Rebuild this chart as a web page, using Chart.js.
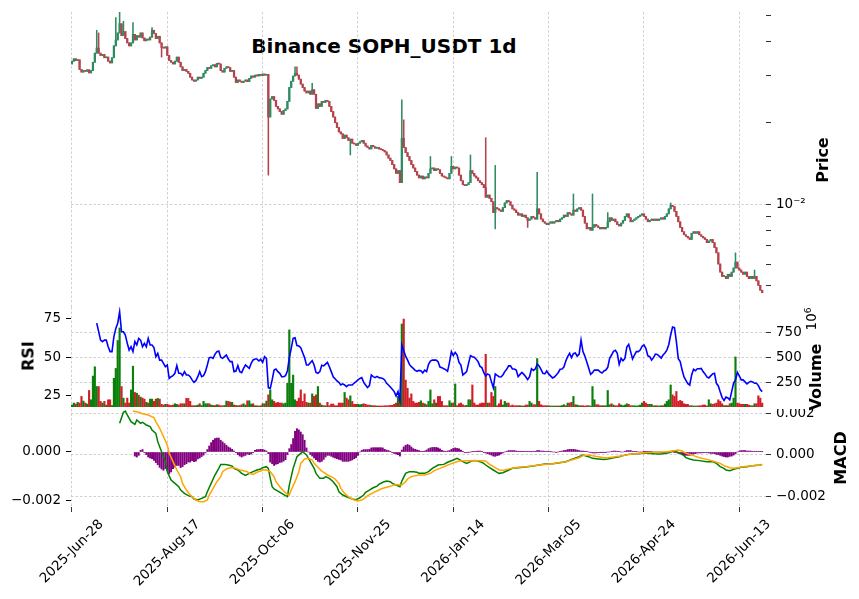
<!DOCTYPE html>
<html>
<head>
<meta charset="utf-8">
<script src="https://cdn.jsdelivr.net/npm/chart.js@4.4.0/dist/chart.umd.min.js"></script>
<style>
  body { margin: 0; background: #fff; width: 859px; height: 599px; overflow: hidden; position: relative; font-family: "DejaVu Sans", sans-serif; }
  canvas { position: absolute; left: 0; }
  .ttl { position: absolute; left: 384px; top: 46px; transform: translate(-50%, -50%); font-weight: bold; font-size: 20px; white-space: nowrap; }
  .ylab { position: absolute; transform: translate(-50%, -50%) rotate(-90deg); font-weight: bold; font-size: 16px; white-space: nowrap; }
  .offs { position: absolute; transform: translate(-50%, -50%) rotate(-90deg); font-size: 13.5px; white-space: nowrap; }
</style>
</head>
<body>
<div class="ttl">Binance SOPH_USDT 1d</div>
<canvas id="priceChart" width="859" height="308" style="top:0"></canvas>
<canvas id="rsiChart" width="859" height="100" style="top:307px"></canvas>
<canvas id="macdChart" width="859" height="190" style="top:409px"></canvas>
<div class="ylab" style="left:822px;top:160px">Price</div>
<div class="ylab" style="left:815px;top:377px">Volume</div>
<div class="offs" style="left:811px;top:319px">10<sup style="font-size:9px">6</sup></div>
<div class="ylab" style="left:28px;top:356px">RSI</div>
<div class="ylab" style="left:840px;top:458px">MACD</div>
<script>
// daily candles starting 2025-06-28 (index 0)
const tickDays = [0, 50, 100, 150, 200, 250, 300, 350];
const tickLabels = ['2025-Jun-28', '2025-Aug-17', '2025-Oct-06', '2025-Nov-25', '2026-Jan-14', '2026-Mar-05', '2026-Apr-24', '2026-Jun-13'];

const firstOpen = 0.0330;
const closes = [
  0.0338,0.0345,0.0340,0.0342,0.0315,0.0308,0.0312,0.0310,0.0314,0.0306,
  0.0312,0.0335,0.0362,0.0378,0.0362,0.0355,0.0358,0.0348,0.0350,0.0338,
  0.0333,0.0348,0.0385,0.0405,0.0430,0.0465,0.0420,0.0435,0.0410,0.0395,
  0.0385,0.0395,0.0425,0.0405,0.0420,0.0415,0.0430,0.0412,0.0402,0.0408,
  0.0405,0.0415,0.0440,0.0428,0.0410,0.0418,0.0395,0.0380,0.0378,0.0382,
  0.0355,0.0340,0.0335,0.0330,0.0338,0.0350,0.0335,0.0322,0.0312,0.0315,
  0.0310,0.0305,0.0295,0.0288,0.0285,0.0288,0.0295,0.0292,0.0295,0.0305,
  0.0312,0.0320,0.0318,0.0325,0.0328,0.0322,0.0332,0.0330,0.0312,0.0308,
  0.0318,0.0322,0.0320,0.0310,0.0312,0.0295,0.0282,0.0288,0.0285,0.0282,
  0.0285,0.0288,0.0284,0.0292,0.0298,0.0295,0.0300,0.0298,0.0302,0.0299,
  0.0303,0.0300,0.0302,0.0210,0.0245,0.0250,0.0242,0.0230,0.0225,0.0220,
  0.0215,0.0222,0.0225,0.0240,0.0270,0.0285,0.0298,0.0305,0.0300,0.0290,
  0.0278,0.0270,0.0262,0.0258,0.0262,0.0255,0.0265,0.0255,0.0226,0.0235,
  0.0230,0.0240,0.0238,0.0242,0.0240,0.0230,0.0220,0.0210,0.0200,0.0192,
  0.0185,0.0182,0.0175,0.0180,0.0176,0.0172,0.0174,0.0168,0.0167,0.0165,
  0.0168,0.0170,0.0172,0.0168,0.0164,0.0162,0.0160,0.0165,0.0163,0.0161,
  0.0162,0.0160,0.0159,0.0158,0.0156,0.0152,0.0148,0.0145,0.0140,0.0135,
  0.0130,0.0133,0.0120,0.0175,0.0162,0.0155,0.0150,0.0145,0.0140,0.0136,
  0.0132,0.0128,0.0125,0.0127,0.0124,0.0126,0.0125,0.0130,0.0135,0.0136,
  0.0133,0.0135,0.0134,0.0130,0.0127,0.0126,0.0125,0.0124,0.0130,0.0138,
  0.0135,0.0137,0.0136,0.0128,0.0122,0.0118,0.0117,0.0118,0.0120,0.0133,
  0.0130,0.0127,0.0125,0.0122,0.0120,0.0118,0.0115,0.0106,0.0108,0.0105,
  0.0102,0.0093,0.0097,0.0096,0.0095,0.0094,0.0097,0.0101,0.0103,0.0102,
  0.0099,0.0096,0.0095,0.0093,0.0091,0.0092,0.0090,0.0091,0.0089,0.0087,
  0.0088,0.0090,0.0089,0.0088,0.0096,0.0092,0.0088,0.0086,0.0085,0.0084,
  0.0085,0.0086,0.0085,0.0086,0.0087,0.0086,0.0088,0.0089,0.0091,0.0090,
  0.0093,0.0092,0.0091,0.0095,0.0094,0.0096,0.0097,0.0095,0.0090,0.0085,
  0.0081,0.0082,0.0080,0.0082,0.0084,0.0083,0.0082,0.0081,0.0082,0.0081,
  0.0082,0.0086,0.0089,0.0087,0.0088,0.0086,0.0084,0.0083,0.0085,0.0087,
  0.0090,0.0092,0.0089,0.0086,0.0087,0.0088,0.0089,0.0090,0.0091,0.0092,
  0.0090,0.0088,0.0086,0.0087,0.0088,0.0087,0.0088,0.0087,0.0088,0.0089,
  0.0088,0.0090,0.0092,0.0096,0.0099,0.0098,0.0094,0.0090,0.0086,0.0082,
  0.0079,0.0077,0.0076,0.0075,0.0074,0.0078,0.0079,0.0078,0.0079,0.0077,
  0.0076,0.0075,0.0074,0.0072,0.0073,0.0074,0.0072,0.0069,0.0066,0.0060,
  0.0056,0.0054,0.0054,0.0053,0.0055,0.0054,0.0056,0.0058,0.0061,0.0058,
  0.0057,0.0056,0.0055,0.0056,0.0054,0.0053,0.0054,0.0053,0.0054,0.0052,
  0.0050,0.0048,0.0047
];

// long wicks visible in the picture
const spikeDays  = [13, 14, 23, 25, 27, 32, 42, 117, 118, 126, 173, 174, 188, 199, 209, 217, 222, 244, 263, 273, 281, 314, 348, 358];
const spikeHighs = [0.0440, 0.0430, 0.0490, 0.0520, 0.0475, 0.0470, 0.0450, 0.0322, 0.0322, 0.0280, 0.0243, 0.0205, 0.0150, 0.0150, 0.0152, 0.0176, 0.0139, 0.0131, 0.0109, 0.0109, 0.0093, 0.0101, 0.0066, 0.0057];
const dipDays = [47, 103, 146, 222, 239];
const dipLows = [0.0350, 0.0128, 0.0152, 0.0081, 0.0082];

// volume in millions
const volumeM = [
  20,40,30,47,40,107,60,40,30,167, 73,313,407,207,207,57,40,57,20,73,
  73,15,290,390,673,800,207,90,40,90, 40,173,413,147,140,120,100,90,80,47,
  40,80,80,57,80,87,80,27,20,27, 27,20,15,20,33,27,20,33,33,33,
  87,87,57,13,13,13,20,33,15,57, 33,33,33,20,15,15,23,20,13,13,
  15,60,57,50,47,20,15,13,15,23, 33,20,63,63,30,33,13,13,10,13,
  33,33,60,123,173,73,57,40,47,40, 40,33,40,240,780,240,323,73,57,90,
  173,57,133,47,40,40,133,107,123,207, 40,20,13,13,47,13,30,30,13,13,
  40,40,40,147,90,73,113,57,27,27, 27,23,27,33,27,20,20,15,13,13,
  10,10,10,10,13,13,13,17,17,27, 40,107,120,840,890,273,190,90,133,57,
  40,40,47,63,40,33,23,57,173,33, 73,40,107,107,57,13,13,13,63,40,
  40,233,13,33,40,23,13,17,73,73, 223,40,20,20,33,40,40,533,40,40,
  147,107,207,13,33,73,20,57,40,40, 13,20,13,13,13,13,10,10,20,20,
  57,40,23,23,490,57,23,13,13,13, 13,10,10,10,10,10,10,15,23,13,
  40,40,47,107,23,20,13,13,13,10, 13,13,10,207,73,23,23,13,13,13,
  13,167,23,33,20,13,13,33,20,13, 20,33,27,13,13,13,10,13,20,40,
  57,40,27,27,27,13,13,13,10,13, 13,30,57,73,223,123,107,157,57,67,
  57,33,27,27,13,13,10,10,10,13, 13,20,20,10,73,33,27,33,40,73,
  57,33,13,15,13,33,40,90,507,40, 33,27,27,27,27,20,13,13,33,33,
  113,90,40
];

// RSI (14) from day 13
const rsiStart = 13;
const rsi = [
  72,66.5,61,60,61,61,56.7,53.5,53.5,63.2, 68.6,71.9,79.4,66.4,66.4,64.3,58.9,54.5,56.7,53.5,
  60,57.8,62.1,61,56.7,58.9,56.7,62.1,57.8,57.8, 56.1,50.2,52.4,48,48,45.9,43.7,44.8,36.1,37.2,
  37.9,39.4,44.4,39.4,39.4,37.9,40.5,38.3,38.3,37.2, 35.1,33.5,34.6,37.2,40.5,37.2,37.9,40.5,44.8,49.6,
  49.8,49.1,51.7,53.5,53.9,49.8,49.1,50.2,51.3,48.7, 47,47,40.5,40.9,44.4,40.5,39.8,42.6,44.8,43.7,
  42.6,45.9,48.1,48.7,48.7,47.4,48.5,46.5,50.2,49.1, 30,29.6,35.1,41.5,42.2,40.5,39.4,37.2,37.2,37.9,
  40.9,49.6,55.6,62.1,62.5,57.4,57.1,56.1,52.8,49.6, 44.8,44.8,46.3,47.6,44.8,40,39.4,40.5,44.6,44.2,
  45.4,46.5,43.7,40.5,37.2,35.9,34.4,33.5,31.8,32.5, 31.8,30.7,31.8,31.8,31.8,33.1,34,35.1,36.1,36.6,
  33.5,31.8,30.1,31.4,38.3,37.2,36.6,37.4,36.6,36.4, 36.1,35.1,32.9,31.8,30.5,29,27.5,24.7,27.5,22.1,
  57.8,54,50.6,48.1,45.2,43.7,42.6,41.3,40.7,41.3, 41.1,39.6,41.5,40.5,45.2,47.4,48,48,48,47,
  43.5,43.1,42.4,41.8,40.7,46.5,53.5,50.9,53,51.3, 46.5,44.8,38.3,39.4,40.5,45.9,50.9,50.2,49.8,48.5,
  47,43.9,43.1,39.8,37.7,39,38.3,34,30,39, 38,37.2,37,38.3,40.5,42,44.2,44.2,42.2,42.2,
  41.5,37.2,38.7,40,38.7,37.2,35.3,37.2,42.4,41.3, 42.2,45.4,44.2,42,39.4,39,40.9,39,37.7,36.4,
  37,38.3,39.8,42,42.2,43.5,47.4,50.2,52.4,49.6, 52.2,52.6,50.6,51.9,61,53.5,50.6,46.8,42.8,38.7,
  39.8,41.5,41.5,41.5,40.3,39.6,40.9,41.5,43.3,49.1, 51.3,53.7,54.3,52.4,45.2,49.1,47.6,49.1,56.5,58.2,
  53.5,48.7,51.3,53.5,53.5,54.5,56.9,57.8,55.6,50.9, 50.2,48,49.6,51.9,51.7,50.6,49.3,51.3,52.6,54.5,
  58,64.3,69.5,69.1,60,48.9,47,41.5,37,34.8, 32.7,31.8,38.3,42,41.1,42.4,42.4,42.6,40.5,39,
  37,36.4,37.7,39,39.4,32.9,31.2,27.2,23.6,21.8, 24,23.4,22.1,27.5,33.1,35.1,40,37.7,35.1,35.1,
  33.8,32.5,33.5,34.2,33.8,32.9,32.9,31.4,28.8,27.5
];

// MACD histogram from day 33
const histStart = 33;
const macdHist = [
  -0.00017,-0.00021,-0.00014,0.00007,0.0001,-0.00003,-0.00011,-0.00021,-0.00025,-0.00028,
  -0.00035,-0.00044,-0.00053,-0.00064,-0.00071,-0.00076,-0.00069,-0.00076,-0.0009,-0.00083,
  -0.00069,-0.00063,-0.00056,-0.00056,-0.00065,-0.00061,-0.00053,-0.00049,-0.00042,-0.00042,
  -0.00036,-0.0004,-0.00038,-0.00029,-0.00025,-0.00019,-0.00013,-0.00004,0.0001,0.00025,
  0.00039,0.00049,0.00056,0.00058,0.00058,0.00049,0.00042,0.00035,0.00028,0.00021,
  0.00017,0.00011,0.00004,-0.00003,-0.00011,-0.00017,-0.00021,-0.00017,-0.00014,-0.00008,
  -0.00011,-0.00008,-0.00003,0.00007,0.0001,0.0001,0.00011,0.00011,0.00008,0.00004,
  -0.00007,-0.00042,-0.00049,-0.00056,-0.00051,-0.00049,-0.00044,-0.00042,-0.00038,-0.00032,
  -0.00011,0.00014,0.00031,0.00056,0.00086,0.00097,0.00092,0.00083,0.00072,0.00049,
  0.00017,0,-0.0001,-0.00017,-0.00025,-0.00032,-0.00039,-0.00042,-0.00039,-0.00031,
  -0.00021,-0.00014,-0.00014,-0.00018,-0.00022,-0.00025,-0.00028,-0.00031,-0.00033,-0.00039,
  -0.00039,-0.00039,-0.00039,-0.00036,-0.00033,-0.00028,-0.00024,-0.00014,0,0.00007,
  0.0001,0.0001,0.0001,0.00011,0.00017,0.00018,0.00018,0.00018,0.00018,0.00018,
  0.00017,0.00011,0.00008,0.00006,0.00001,-0.00003,-0.00006,-0.00008,-0.00011,-0.00017,
  0.00008,0.00021,0.00028,0.00031,0.00028,0.00021,0.00014,0.00011,0.00008,0.00006,
  0.00003,0.00003,0.00004,0.00008,0.00014,0.00017,0.00019,0.00019,0.00019,0.00017,
  0.00013,0.00007,0.00004,0.00003,0.00004,0.00006,0.00011,0.00015,0.00017,0.00015,
  0.00013,0.00008,0.00003,-0.00003,-0.00003,-0.00001,0,0.00001,0.00003,0.00003,
  0.00004,0.00004,0.00003,-0.00001,-0.00004,-0.00007,-0.0001,-0.00013,-0.00017,-0.00018,
  -0.00015,-0.00013,-0.00008,-0.00004,0,0.00003,0.00006,0.00006,0.00006,0.00006,
  0.00004,0.00003,0.00003,0.00003,0.00003,0.00003,0.00003,0.00003,0.00001,0.00003,
  0.00003,0.00006,0.00006,0.00004,0.00004,0.00003,0.00003,0.00003,0.00001,0,
  0,-0.00001,0,0.00003,0.00004,0.00006,0.00007,0.0001,0.00011,0.00011,
  0.00011,0.0001,0.00008,0.00006,0.00004,0.00004,0.00003,0.00003,0,-0.00001,
  -0.00004,-0.00004,-0.00004,-0.00003,-0.00001,-0.00001,-0.00001,-0.00001,0,0,
  0.00003,0.00004,0.00004,0.00003,0.00003,0,0,0.00003,0.00006,0.00006,
  0.00006,0.00003,0.00003,0.00001,0,0,0,0.00001,0.00001,0.00001,
  0.00001,0.00001,0,0,0,0,-0.00001,-0.00001,-0.00001,0,
  0,0,0,-0.00001,-0.00003,-0.00006,-0.00007,-0.00011,-0.00013,-0.00014,
  -0.00014,-0.00014,-0.0001,-0.00008,-0.00007,-0.00004,-0.00004,-0.00004,-0.00003,-0.00003,
  -0.00003,-0.00004,-0.00006,-0.00006,-0.00007,-0.0001,-0.00011,-0.00014,-0.00017,-0.00019,
  -0.00021,-0.00021,-0.00018,-0.00017,-0.00013,-0.00008,0,0.00004,0.00006,0.00006,
  0.00006,0.00004,0.00004,0.00004,0.00003,0.00003,0.00003,0.00003,0.00003,0.00001
];

// MACD and signal lines, read at these days
const macdDays = [25,27,28,29,31,33,34,36,37,39,41,42,44,45,47,49,50,52,54,56,57,59,61,63,64,66,68,70,71,73,75,77,78,80,82,84,85,87,89,91,
  93,95,97,99,100,102,103,104,105,106,108,110,112,113,114,116,118,120,121,123,125,127,128,130,132,133,135,137,139,140,
  142,144,146,147,149,151,153,154,156,158,160,161,163,165,167,168,170,172,173,175,177,179,181,182,185,187,189,192,195,197,
  200,202,203,205,207,209,210,212,214,216,217,219,221,223,224,226,228,230,231,234,238,241,245,248,252,255,259,262,266,268,
  271,273,276,279,281,284,287,289,292,294,297,300,302,305,308,310,313,315,317,319,321,322,324,326,329,333,336,338,340,342,
  343,345,347,349,351,354,357,361,362];
const macdLine = [0.00152,0.00205,0.00211,0.00192,0.0016,0.00147,0.00168,0.00152,0.00157,0.00144,
  0.00136,0.0012,0.00104,0.00064,0.00016,-0.00032,-0.0008,-0.0012,-0.00136,-0.00152,
  -0.00168,-0.00184,-0.00195,-0.002,-0.00211,-0.00216,-0.00208,-0.002,-0.00176,-0.00136,
  -0.00096,-0.00064,-0.00045,-0.00045,-0.00048,-0.00053,-0.00064,-0.00072,-0.00088,-0.00098,
  -0.00088,-0.0008,-0.00072,-0.00067,-0.00061,-0.00056,-0.00064,-0.00112,-0.00152,-0.00163,
  -0.00173,-0.00184,-0.00195,-0.002,-0.00144,-0.00064,-0.00008,0.00008,0.00016,0,
  -0.00032,-0.00064,-0.00088,-0.00112,-0.00112,-0.00104,-0.00112,-0.00128,-0.00152,-0.00176,
  -0.00192,-0.002,-0.00208,-0.00211,-0.00214,-0.00205,-0.00192,-0.00179,-0.00168,-0.00157,
  -0.00149,-0.00141,-0.00131,-0.00125,-0.00128,-0.00136,-0.00144,-0.00152,-0.00125,-0.00088,
  -0.0008,-0.0008,-0.00083,-0.00088,-0.00088,-0.0008,-0.00064,-0.00048,-0.00045,-0.00035,
  -0.00024,-0.00016,-0.00021,-0.00032,-0.0004,-0.00032,-0.00027,-0.00027,-0.00032,-0.0004,
  -0.00048,-0.00061,-0.00072,-0.00083,-0.00088,-0.00085,-0.00077,-0.00069,-0.00064,-0.00061,
  -0.00058,-0.00054,-0.00048,-0.00043,-0.00042,-0.00038,-0.00032,-0.00021,-0.00008,0,
  -0.00008,-0.00016,-0.00019,-0.00022,-0.00019,-0.00013,-0.00008,-0.00003,0.00003,0.00005,
  0.00006,0.00008,0.00008,0.00006,0.00005,0.00006,0.00011,0.00019,0.00016,0.00008,
  -0.00003,-0.00013,-0.00019,-0.00024,-0.00027,-0.00032,-0.00032,-0.0004,-0.00056,-0.00064,
  -0.00072,-0.00075,-0.00069,-0.00064,-0.00059,-0.00056,-0.00051,-0.00048,-0.00045];
const signalDays = [32,35,37,40,43,44,46,48,50,51,53,55,57,58,60,62,64,65,67,69,71,72,74,76,78,79,81,83,85,86,
  88,90,92,93,95,97,99,100,102,104,106,107,109,111,113,114,115,117,119,120,122,124,126,127,129,131,133,134,136,138,
  140,141,143,145,147,148,150,152,154,155,157,159,161,162,164,166,168,169,171,173,175,176,178,180,182,185,188,190,193,196,
  198,201,203,206,209,211,214,217,219,222,224,226,228,231,234,238,241,245,248,252,255,259,262,266,268,271,273,276,279,281,
  284,287,289,292,294,298,301,305,308,312,315,318,320,322,326,329,333,336,340,342,345,347,349,351,354,357,361,362];
const signalLine = [0.00211,0.00205,0.00198,0.00192,0.00179,0.0016,0.00128,0.00088,0.00048,0.00008,
  -0.00032,-0.00072,-0.00104,-0.00136,-0.00168,-0.00192,-0.00208,-0.00216,-0.00224,-0.00224,
  -0.00216,-0.00192,-0.0016,-0.00128,-0.00104,-0.0008,-0.00067,-0.00061,-0.00061,-0.00064,
  -0.00072,-0.00076,-0.0008,-0.00088,-0.00093,-0.00083,-0.00077,-0.00072,-0.00072,-0.0008,
  -0.00104,-0.00128,-0.00152,-0.00173,-0.00189,-0.00192,-0.00168,-0.00128,-0.0008,-0.0004,
  -0.00019,-0.00016,-0.00024,-0.0004,-0.00059,-0.00077,-0.00088,-0.00096,-0.00104,-0.00115,
  -0.00136,-0.0016,-0.00184,-0.002,-0.00211,-0.00216,-0.00221,-0.00216,-0.00205,-0.00195,
  -0.00186,-0.00176,-0.00168,-0.00163,-0.00157,-0.00152,-0.00147,-0.00144,-0.00141,-0.00144,
  -0.00128,-0.00115,-0.00104,-0.00099,-0.00096,-0.00096,-0.00088,-0.00075,-0.00064,-0.00053,
  -0.00045,-0.00035,-0.00029,-0.00027,-0.00027,-0.00026,-0.00027,-0.00029,-0.00045,-0.00061,
  -0.00072,-0.00074,-0.00069,-0.00064,-0.00059,-0.00056,-0.00053,-0.00048,-0.00045,-0.00042,
  -0.00037,-0.00032,-0.00024,-0.00013,-0.00003,0,-0.00004,-0.00008,-0.00013,-0.00013,
  -0.0001,-0.00006,-0.00003,0.00002,0.00005,0.00008,0.00011,0.00013,0.00014,0.00016,
  0.00019,0.00024,0.00019,0.00008,-0.00003,-0.00013,-0.00021,-0.00029,-0.0004,-0.00051,
  -0.00061,-0.00064,-0.00061,-0.00058,-0.00054,-0.00051,-0.00048,-0.00045];

// ---- build candles ----
const days = closes.map((c, i) => i);
const opens = closes.map((c, i) => i === 0 ? firstOpen : closes[i - 1]);
const highs = closes.map((c, i) => Math.max(c, opens[i]));
const lows = closes.map((c, i) => Math.min(c, opens[i]));
spikeDays.forEach((d, k) => { highs[d] = spikeHighs[k]; });
dipDays.forEach((d, k) => { lows[d] = dipLows[k]; });
const isUp = closes.map((c, i) => c >= opens[i]);

const UP = '#2e8b62', DOWN = '#b5434c';
const VUP = '#0a7f0a', VDOWN = '#d11f27';
const GRID = '#c4c4c4';
const DASH = [2.5, 2];
const candleColors = days.map(i => isUp[i] ? UP : DOWN);

Chart.defaults.font.family = '"DejaVu Sans", sans-serif';
Chart.defaults.font.size = 13.5;
Chart.defaults.color = '#000';

function fmtSigned(v) {
  return (v < 0 ? '\u2212' : '') + Math.abs(v).toFixed(3);
}

function xScale(withTicks) {
  return {
    type: 'linear', min: -0.5, max: 364, offset: false,
    afterBuildTicks: s => { s.ticks = tickDays.map(v => ({ value: v })); },
    ticks: { display: false },
    grid: { offset: false, color: GRID, lineWidth: 0.8, drawTicks: withTicks, tickLength: 5, tickColor: '#000' },
    border: { display: false, dash: DASH },
    afterFit: s => { s.height = withTicks ? 92 : 0; s.paddingLeft = 0; s.paddingRight = 0; }
  };
}

function sideFit(width) {
  return s => { s.width = width; s.paddingTop = 0; s.paddingBottom = 0; };
}

const baseOpts = {
  responsive: false,
  animation: false,
  events: [],
  plugins: { legend: { display: false }, tooltip: { enabled: false } }
};

// ---- price panel ----
new Chart(document.getElementById('priceChart'), {
  type: 'bar',
  data: {
    datasets: [
      { data: days.map(i => ({ x: i, y: [lows[i], highs[i]] })), backgroundColor: candleColors, barThickness: 0.9, grouped: false },
      { data: days.map(i => ({ x: i, y: [opens[i], closes[i]] })), backgroundColor: candleColors, barThickness: 1.6, minBarLength: 1, grouped: false }
    ]
  },
  options: Object.assign({}, baseOpts, {
    layout: { padding: { left: 71, top: 12, right: 0, bottom: 1 } },
    scales: {
      x: xScale(false),
      y: {
        type: 'logarithmic', position: 'right', min: 0.00416, max: 0.0514,
        afterBuildTicks: s => {
          s.ticks = [0.005, 0.006, 0.007, 0.008, 0.009, 0.01, 0.02, 0.03, 0.04, 0.05].map(v => ({ value: v }));
        },
        afterFit: sideFit(93),
        ticks: { autoSkip: false, padding: 5, callback: v => v === 0.01 ? '10\u207B\u00B2' : '' },
        grid: {
          color: ctx => (ctx.tick && ctx.tick.value === 0.01) ? GRID : 'rgba(0,0,0,0)',
          lineWidth: 0.8, tickLength: 5, tickColor: '#000'
        },
        border: { display: false, dash: DASH }
      }
    }
  })
});

// ---- RSI + volume panel ----
new Chart(document.getElementById('rsiChart'), {
  type: 'bar',
  data: {
    datasets: [
      {
        type: 'line', yAxisID: 'yRsi', order: 0,
        data: rsi.map((v, k) => ({ x: rsiStart + k, y: v })),
        borderColor: '#0000ff', borderWidth: 1.6, pointRadius: 0, tension: 0
      },
      {
        type: 'bar', yAxisID: 'yVol', order: 1,
        data: volumeM.map((v, i) => ({ x: i, y: v })),
        backgroundColor: days.map(i => isUp[i] ? VUP : VDOWN),
        barThickness: 1.5, grouped: false
      }
    ]
  },
  options: Object.assign({}, baseOpts, {
    layout: { padding: 0 },
    scales: {
      x: xScale(false),
      yRsi: {
        type: 'linear', position: 'left', min: 17.5, max: 82.5,
        afterBuildTicks: s => { s.ticks = [25, 50, 75].map(v => ({ value: v })); },
        afterFit: sideFit(71),
        ticks: { autoSkip: false, padding: 5 },
        grid: { drawOnChartArea: false, tickLength: 5, tickColor: '#000' },
        border: { display: false }
      },
      yVol: {
        type: 'linear', position: 'right', min: 0, max: 1012,
        afterBuildTicks: s => { s.ticks = [250, 500, 750].map(v => ({ value: v })); },
        afterFit: sideFit(93),
        ticks: { autoSkip: false, padding: 5 },
        grid: { color: GRID, lineWidth: 0.8, tickLength: 5, tickColor: '#000' },
        border: { display: false, dash: DASH }
      }
    }
  })
});

// ---- MACD panel with date labels ----
const dateLabels = {
  id: 'dateLabels',
  afterDraw(chart) {
    const { ctx, chartArea, scales } = chart;
    ctx.save();
    ctx.font = '13.5px "DejaVu Sans"';
    ctx.fillStyle = '#000';
    ctx.textAlign = 'center';
    ctx.textBaseline = 'middle';
    tickDays.forEach((d, k) => {
      const w = ctx.measureText(tickLabels[k]).width;
      const x = scales.x.getPixelForValue(d);
      const y = chartArea.bottom + 10 + (w + 15) * Math.SQRT1_2 / 2;
      ctx.save();
      ctx.translate(x, y);
      ctx.rotate(-Math.PI / 4);
      ctx.fillText(tickLabels[k], 0, 0);
      ctx.restore();
    });
    ctx.restore();
  }
};

new Chart(document.getElementById('macdChart'), {
  type: 'bar',
  data: {
    datasets: [
      {
        type: 'line', yAxisID: 'yLine', order: 0,
        data: signalDays.map((d, k) => ({ x: d, y: signalLine[k] })),
        borderColor: '#ffa500', borderWidth: 1.5, pointRadius: 0, tension: 0
      },
      {
        type: 'line', yAxisID: 'yLine', order: 1,
        data: macdDays.map((d, k) => ({ x: d, y: macdLine[k] })),
        borderColor: '#008000', borderWidth: 1.5, pointRadius: 0, tension: 0
      },
      {
        type: 'bar', yAxisID: 'yHist', order: 2,
        data: macdHist.map((v, k) => ({ x: histStart + k, y: v })),
        backgroundColor: '#800080', barThickness: 1.3, grouped: false
      }
    ]
  },
  options: Object.assign({}, baseOpts, {
    layout: { padding: 0 },
    scales: {
      x: xScale(true),
      yHist: {
        type: 'linear', position: 'left', min: -0.00229, max: 0.00179,
        afterBuildTicks: s => { s.ticks = [-0.002, 0].map(v => ({ value: v })); },
        afterFit: sideFit(71),
        ticks: { autoSkip: false, padding: 5, callback: v => fmtSigned(v) },
        grid: { drawOnChartArea: false, tickLength: 5, tickColor: '#000' },
        border: { display: false }
      },
      yLine: {
        type: 'linear', position: 'right', min: -0.002494, max: 0.002206,
        afterBuildTicks: s => { s.ticks = [-0.002, 0, 0.002].map(v => ({ value: v })); },
        afterFit: sideFit(93),
        ticks: { autoSkip: false, padding: 5, callback: v => fmtSigned(v) },
        grid: { color: GRID, lineWidth: 0.8, tickLength: 5, tickColor: '#000' },
        border: { display: false, dash: DASH }
      }
    }
  }),
  plugins: [dateLabels]
});
</script>
</body>
</html>
